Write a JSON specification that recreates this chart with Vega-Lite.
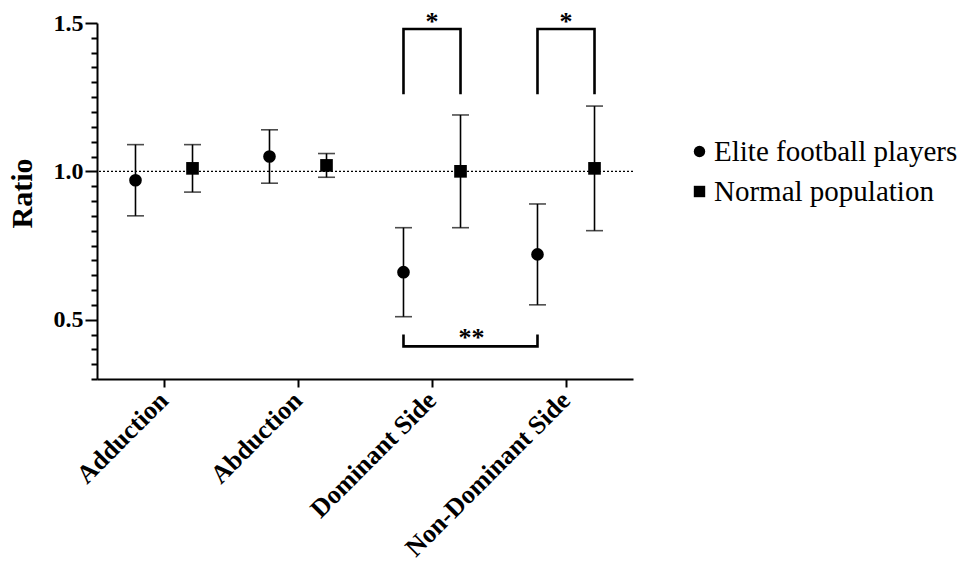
{
  "$schema": "https://vega.github.io/schema/vega-lite/v6.json",
  "width": 536,
  "height": 356,
  "autosize": {"type": "none"},
  "padding": {"left": 97, "top": 23, "right": 329, "bottom": 187},
  "background": "white",
  "config": {
    "view": {"stroke": null},
    "font": "Liberation Serif"
  },
  "datasets": {
    "stats": [
      {"cat": "Adduction", "group": "Elite football players", "mean": 0.97, "lo": 0.85, "hi": 1.09},
      {"cat": "Adduction", "group": "Normal population", "mean": 1.01, "lo": 0.93, "hi": 1.09},
      {"cat": "Abduction", "group": "Elite football players", "mean": 1.05, "lo": 0.96, "hi": 1.14},
      {"cat": "Abduction", "group": "Normal population", "mean": 1.02, "lo": 0.98, "hi": 1.06},
      {"cat": "Dominant Side", "group": "Elite football players", "mean": 0.66, "lo": 0.51, "hi": 0.81},
      {"cat": "Dominant Side", "group": "Normal population", "mean": 1.0, "lo": 0.81, "hi": 1.19},
      {"cat": "Non-Dominant Side", "group": "Elite football players", "mean": 0.72, "lo": 0.55, "hi": 0.89},
      {"cat": "Non-Dominant Side", "group": "Normal population", "mean": 1.01, "lo": 0.8, "hi": 1.22}
    ],
    "brackets": [
      {"id": "a", "ord": 1, "cat": "Dominant Side", "group": "Elite football players", "v": 1.26},
      {"id": "a", "ord": 2, "cat": "Dominant Side", "group": "Elite football players", "v": 1.48},
      {"id": "a", "ord": 3, "cat": "Dominant Side", "group": "Normal population", "v": 1.48},
      {"id": "a", "ord": 4, "cat": "Dominant Side", "group": "Normal population", "v": 1.26},
      {"id": "b", "ord": 1, "cat": "Non-Dominant Side", "group": "Elite football players", "v": 1.26},
      {"id": "b", "ord": 2, "cat": "Non-Dominant Side", "group": "Elite football players", "v": 1.48},
      {"id": "b", "ord": 3, "cat": "Non-Dominant Side", "group": "Normal population", "v": 1.48},
      {"id": "b", "ord": 4, "cat": "Non-Dominant Side", "group": "Normal population", "v": 1.26},
      {"id": "c", "ord": 1, "cat": "Dominant Side", "group": "Elite football players", "v": 0.45},
      {"id": "c", "ord": 2, "cat": "Dominant Side", "group": "Elite football players", "v": 0.41},
      {"id": "c", "ord": 3, "cat": "Non-Dominant Side", "group": "Elite football players", "v": 0.41},
      {"id": "c", "ord": 4, "cat": "Non-Dominant Side", "group": "Elite football players", "v": 0.45}
    ],
    "stars": [
      {"cat": "Dominant Side", "v": 1.48, "label": "*"},
      {"cat": "Non-Dominant Side", "v": 1.48, "label": "*"}
    ]
  },
  "layer": [
    {
      "data": {"values": [{"ref": 1.0}]},
      "mark": {"type": "rule", "color": "black", "strokeWidth": 1.2, "strokeDash": [2, 2]},
      "encoding": {
        "y": {"field": "ref", "type": "quantitative",
          "scale": {"domain": [0.3, 1.5], "nice": false, "zero": false},
          "axis": {
            "title": "Ratio", "titleFont": "Liberation Serif", "titleFontWeight": "bold", "titleFontSize": 30, "titleColor": "black",
            "titlePadding": 16, "titleY": 170,
            "values": [0.3, 0.35, 0.4, 0.45, 0.5, 0.55, 0.6, 0.65, 0.7, 0.75, 0.8, 0.85, 0.9, 0.95, 1.0, 1.05, 1.1, 1.15, 1.2, 1.25, 1.3, 1.35, 1.4, 1.45, 1.5],
            "tickCount": 40,
            "labelExpr": "abs(datum.value*2 - round(datum.value*2)) < 0.001 ? format(datum.value, '.1f') : ''",
            "labelOverlap": false,
            "labelFont": "Liberation Serif", "labelFontWeight": "bold", "labelFontSize": 24, "labelColor": "black", "labelPadding": 2,
            "grid": false,
            "domainColor": "black", "domainWidth": 2, "tickColor": "black", "tickWidth": 2,
            "tickSize": {"condition": {"test": "abs(datum.value*2 - round(datum.value*2)) < 0.001", "value": 12}, "value": 6}
          }}
      }
    },
    {
      "data": {"name": "stats"},
      "mark": {"type": "rule", "color": "black", "strokeWidth": 1.6},
      "encoding": {
        "x": {"field": "cat", "type": "nominal", "sort": ["Adduction", "Abduction", "Dominant Side", "Non-Dominant Side"],
          "scale": {"domain": ["Adduction", "Abduction", "Dominant Side", "Non-Dominant Side"], "paddingInner": 0, "paddingOuter": 0},
          "axis": {
            "title": null, "labelAngle": -45, "labelAlign": "right", "labelBaseline": "middle",
            "labelFont": "Liberation Serif", "labelFontWeight": "bold", "labelFontSize": 26,
            "labelColor": "black", "domainColor": "black", "domainWidth": 2, "tickColor": "black", "tickWidth": 2, "tickSize": 8,
            "labelPadding": 9, "labelLimit": 0
          }},
        "xOffset": {"field": "group", "type": "nominal",
          "scale": {"domain": ["Elite football players", "Normal population"], "paddingInner": 0, "paddingOuter": 0.175}},
        "y": {"field": "lo", "type": "quantitative"},
        "y2": {"field": "hi"}
      }
    },
    {
      "data": {"name": "stats"},
      "mark": {"type": "tick", "color": "black", "thickness": 1.6, "size": 17, "orient": "horizontal"},
      "encoding": {
        "x": {"field": "cat", "type": "nominal"},
        "xOffset": {"field": "group", "type": "nominal"},
        "y": {"field": "lo", "type": "quantitative"}
      }
    },
    {
      "data": {"name": "stats"},
      "mark": {"type": "tick", "color": "black", "thickness": 1.6, "size": 17, "orient": "horizontal"},
      "encoding": {
        "x": {"field": "cat", "type": "nominal"},
        "xOffset": {"field": "group", "type": "nominal"},
        "y": {"field": "hi", "type": "quantitative"}
      }
    },
    {
      "data": {"name": "stats"},
      "mark": {"type": "point", "filled": true, "color": "black", "opacity": 1, "size": 160},
      "encoding": {
        "x": {"field": "cat", "type": "nominal"},
        "xOffset": {"field": "group", "type": "nominal"},
        "y": {"field": "mean", "type": "quantitative"},
        "shape": {"field": "group", "type": "nominal",
          "scale": {"domain": ["Elite football players", "Normal population"], "range": ["circle", "square"]},
          "legend": {
            "title": null, "orient": "none", "legendX": 588, "legendY": 114,
            "labelFont": "Liberation Serif", "labelFontSize": 29, "labelColor": "black", "labelLimit": 0,
            "symbolFillColor": "black", "symbolStrokeColor": "black", "symbolSize": 130, "symbolOpacity": 1,
            "rowPadding": 10, "labelOffset": 0
          }}
      }
    },
    {
      "data": {"name": "brackets"},
      "mark": {"type": "line", "color": "black", "strokeWidth": 2.6, "strokeCap": "butt", "strokeJoin": "miter"},
      "encoding": {
        "x": {"field": "cat", "type": "nominal"},
        "xOffset": {"field": "group", "type": "nominal"},
        "y": {"field": "v", "type": "quantitative"},
        "detail": {"field": "id"},
        "order": {"field": "ord", "type": "quantitative"}
      }
    },
    {
      "data": {"name": "stars"},
      "mark": {"type": "text", "font": "Liberation Serif", "fontWeight": "bold", "fontSize": 26, "baseline": "alphabetic", "dy": 1, "color": "black"},
      "encoding": {
        "x": {"field": "cat", "type": "nominal"},
        "y": {"field": "v", "type": "quantitative"},
        "text": {"field": "label"}
      }
    },
    {
      "data": {"values": [{"cat": "Dominant Side", "group": "Normal population", "v": 0.41, "label": "**"}]},
      "mark": {"type": "text", "font": "Liberation Serif", "fontWeight": "bold", "fontSize": 26, "baseline": "alphabetic", "dx": 11, "dy": 0, "color": "black"},
      "encoding": {
        "x": {"field": "cat", "type": "nominal"},
        "xOffset": {"field": "group", "type": "nominal"},
        "y": {"field": "v", "type": "quantitative"},
        "text": {"field": "label"}
      }
    }
  ]
}
